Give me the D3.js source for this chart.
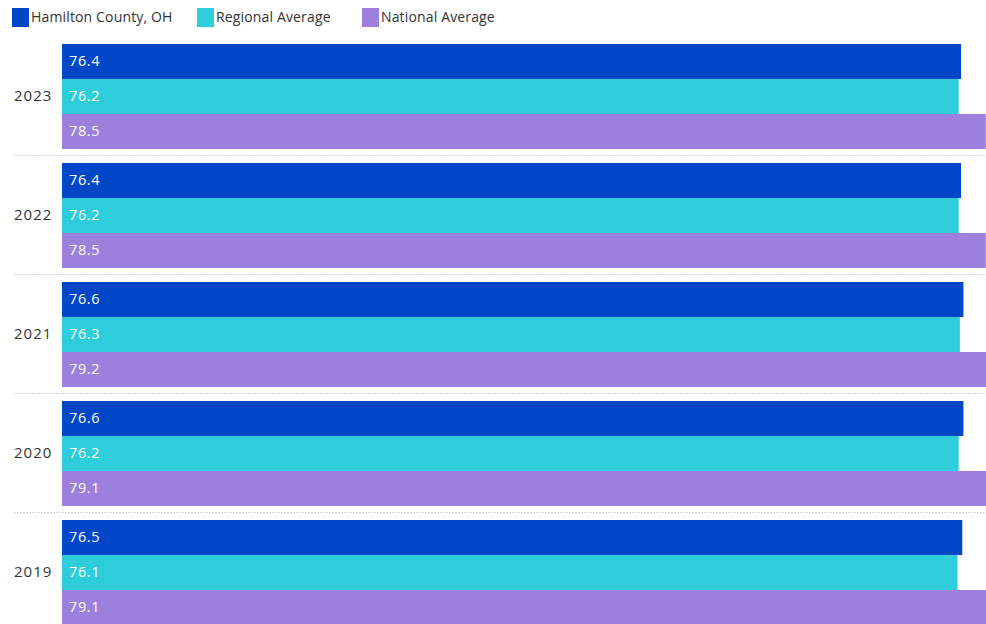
<!DOCTYPE html>
<html><head><meta charset="utf-8">
<script src="https://cdn.jsdelivr.net/npm/d3@7"></script>
<style>
html,body{margin:0;padding:0;background:#fff;overflow:hidden}
text{font-family:"Open Sans",Lato,sans-serif}
</style></head>
<body><svg id="c" width="986" height="624"></svg>
<script>
const years = ["2023","2022","2021","2020","2019"];
const seriesNames = ["Hamilton County, OH","Regional Average","National Average"];
const hamilton = [76.4,76.4,76.6,76.6,76.5];
const regional = [76.2,76.2,76.3,76.2,76.1];
const national = [78.5,78.5,79.2,79.1,79.1];
const colors = ["#0047C8","#2DCDDB","#9D7FDD"];

const svg = d3.select("#c");
const x0 = 62;
const x = d3.scaleLinear().domain([0, 79.2]).range([x0, x0 + 932]);
const yb = d3.scaleBand().domain(years).range([44, 44 + 119*5 - 14]).paddingInner(14/119).paddingOuter(0);
const inner = d3.scaleBand().domain([0,1,2]).range([0, yb.bandwidth()]);
const vals = [hamilton, regional, national];

// separators
years.slice(0,-1).forEach((yr,i)=>{
  const yy = Math.round(yb(yr) + yb.bandwidth() + 7) - 0.5;
  svg.append("line").attr("x1",14).attr("x2",986).attr("y1",yy).attr("y2",yy)
    .attr("stroke","#d6d6d6").attr("stroke-width",1).attr("stroke-dasharray","2,1");
});

years.forEach((yr,i)=>{
  const g = svg.append("g").attr("transform",`translate(0,${yb(yr)})`);
  vals.forEach((arr,s)=>{
    g.append("rect").attr("x",x(0)).attr("y",inner(s)).attr("width",x(arr[i])-x(0))
      .attr("height",inner.bandwidth()).attr("fill",colors[s]);
    g.append("text").attr("x",x(0)+7).attr("y",inner(s)+inner.bandwidth()/2 - 1)
      .attr("dy","0.35em").attr("fill","#fff").attr("font-size",14.5)
      .attr("letter-spacing","0.6px").text(arr[i].toFixed(1));
  });
  svg.append("text").attr("x",14).attr("y",yb(yr)+yb.bandwidth()/2 - 1).attr("dy","0.35em")
    .attr("fill","#333").attr("font-size",15).attr("letter-spacing","1px").text(yr);
});

// legend
const legX = [12,197,362];
seriesNames.forEach((n,s)=>{
  svg.append("rect").attr("x",legX[s]).attr("y",8).attr("width",17).attr("height",19).attr("fill",colors[s]);
  svg.append("text").attr("x",legX[s]+19).attr("y",17).attr("dy","0.35em")
    .attr("fill","#333").attr("font-size",14).attr("letter-spacing","0.15px").text(n);
});
</script></body></html>
